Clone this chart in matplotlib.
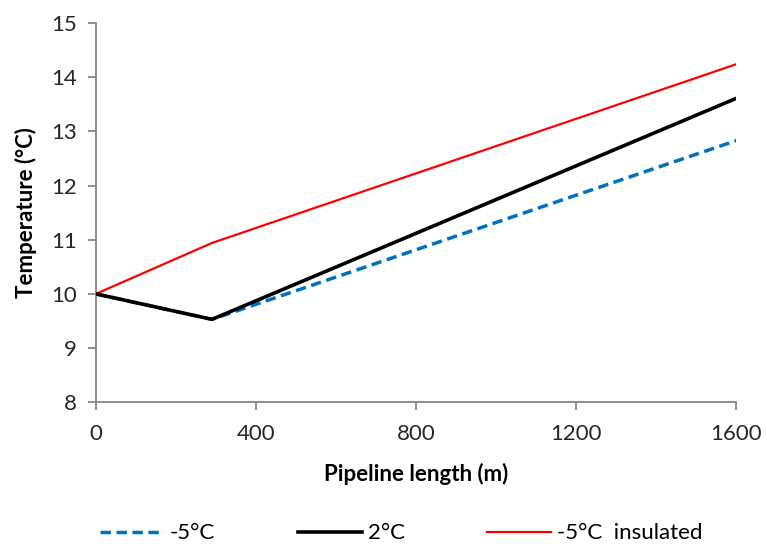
import numpy as np
import matplotlib.pyplot as plt

plt.rcParams['font.family'] = ['Lato', 'DejaVu Sans']

# pipeline positions (m) and outlet temperatures (°C)
length = [0, 290, 1600]
t_cold = [10.0, 9.53, 12.83]
t_mild = [10.0, 9.53, 13.61]
t_insulated = [10.0, 10.94, 14.24]

fig = plt.figure(figsize=(7.67, 5.48), dpi=100)
ax = fig.add_axes([0.125, 0.266, 0.835, 0.692])

ax.plot(length, t_cold, color='#0070C0', lw=2.5, ls=(0, (3, 1.6)), label='-5°C', zorder=2)
ax.plot(length, t_mild, color='black', lw=2.6, label='2°C', zorder=3)
ax.plot(length, t_insulated, color='#FF0000', lw=1.6, label='-5°C  insulated', zorder=2)

ax.set_xlim(0, 1600)
ax.set_ylim(8, 15)
ax.set_xticks([0, 400, 800, 1200, 1600])
ax.set_yticks(np.arange(8, 16, 1))

for s in ['top', 'right']:
    ax.spines[s].set_visible(False)
for s in ['left', 'bottom']:
    ax.spines[s].set_color('#868686')
    ax.spines[s].set_linewidth(1.3)
ax.tick_params(direction='out', length=5.5, width=1.3, color='#868686',
               labelsize=16, labelcolor='#262626')
ax.tick_params(axis='x', pad=10)
ax.tick_params(axis='y', pad=8)

ax.set_xlabel('Pipeline length (m)', fontsize=16, fontweight='bold', labelpad=14)
ax.set_ylabel('Temperature (°C)', fontsize=16, fontweight='bold', labelpad=10)

fig.legend(loc='lower center', bbox_to_anchor=(0.523, -0.028), ncol=3, frameon=False,
           fontsize=16, handlelength=2.9, columnspacing=3.7, handletextpad=0.25)

fig.savefig('out.png', dpi=100)
